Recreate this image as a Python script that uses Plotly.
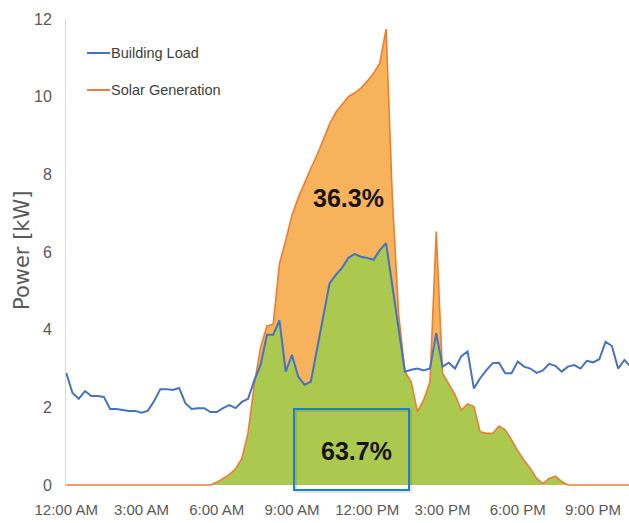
import pandas as pd
import numpy as np
import plotly.graph_objects as go

# 15-minute intervals starting at midnight
times = pd.date_range("2020-01-01 00:00", periods=91, freq="15min")

building_load = [2.89, 2.37, 2.22, 2.42, 2.29, 2.29, 2.27, 1.96, 1.96, 1.93,
                 1.91, 1.91, 1.86, 1.91, 2.16, 2.47, 2.47, 2.45, 2.50, 2.11,
                 1.96, 1.98, 1.98, 1.88, 1.88, 1.98, 2.06, 1.98, 2.14, 2.22,
                 2.70, 3.10, 3.87, 3.87, 4.24, 2.92, 3.35, 2.79, 2.58, 2.66,
                 3.48, 4.34, 5.20, 5.41, 5.60, 5.85, 5.95, 5.88, 5.85, 5.80,
                 6.05, 6.23, 5.10, 4.00, 2.92, 2.97, 3.00, 2.95, 3.00, 3.91,
                 3.05, 3.15, 3.00, 3.32, 3.44, 2.49, 2.75, 2.96, 3.14, 3.15,
                 2.88, 2.88, 3.18, 3.05, 3.00, 2.89, 2.95, 3.12, 3.07, 2.92,
                 3.05, 3.09, 3.00, 3.20, 3.16, 3.24, 3.69, 3.58, 3.00, 3.22, 3.05]

solar_generation = [0] * 24 + [
    0.07, 0.17, 0.27, 0.42, 0.68, 1.35, 2.60, 3.55, 4.10, 4.14,
    5.70, 6.30, 6.95, 7.40, 7.80, 8.15, 8.50, 8.90, 9.30, 9.60,
    9.80, 10.00, 10.10, 10.22, 10.40, 10.60, 10.87, 11.74, 7.40, 4.40,
    2.92, 2.66, 1.89, 2.19, 2.66, 6.53, 2.88, 2.58, 2.32, 1.93,
    2.09, 2.02, 1.37, 1.33, 1.33, 1.52, 1.42, 1.16, 0.88, 0.64,
    0.43, 0.17, 0.04, 0.17, 0.23, 0.09] + [0] * 11

share_exported = "36.3%"
share_self_consumed = "63.7%"

self_consumed = np.minimum(np.array(building_load), np.array(solar_generation))

BLUE = "#4472C4"
ORANGE = "#ED7D31"
ORANGE_FILL = "#F6B35C"
GREEN_FILL = "#ABC84F"
SANS = "Liberation Sans, Arial, sans-serif"
GRAY = "#595959"

fig = go.Figure()
fig.add_trace(go.Scatter(x=times, y=solar_generation, mode="none", fill="tozeroy",
                         fillcolor=ORANGE_FILL, showlegend=False, hoverinfo="skip"))
fig.add_trace(go.Scatter(x=times, y=self_consumed, mode="none", fill="tozeroy",
                         fillcolor=GREEN_FILL, showlegend=False, hoverinfo="skip"))
fig.add_trace(go.Scatter(x=times, y=solar_generation, mode="lines", name="Solar Generation",
                         line=dict(color=ORANGE, width=1.6), showlegend=False))
fig.add_trace(go.Scatter(x=times, y=building_load, mode="lines", name="Building Load",
                         line=dict(color=BLUE, width=2), showlegend=False))

# plot area geometry: l=66, r=0, t=19, b=36  (629 x 523)
L, T, W, H = 66, 19, 563, 468
def px(x):
    return (x - L) / W
def py(y):
    return (T + H - y) / H

shapes = [
    dict(type="rect", xref="paper", yref="paper", x0=px(296), x1=px(411), y0=py(492), y1=py(411),
         line=dict(color="rgba(0,0,0,0.10)", width=2)),
    dict(type="rect", xref="paper", yref="paper", x0=px(294), x1=px(409), y0=py(490), y1=py(409),
         line=dict(color="#1A7FD2", width=2)),
    dict(type="line", xref="paper", yref="paper", x0=px(87), x1=px(110), y0=py(53), y1=py(53),
         line=dict(color=BLUE, width=2)),
    dict(type="line", xref="paper", yref="paper", x0=px(87), x1=px(110), y0=py(90), y1=py(90),
         line=dict(color=ORANGE, width=2)),
]

annotations = [
    dict(text="Building Load", xref="paper", yref="paper", x=px(109), y=py(53),
         xanchor="left", yanchor="middle", showarrow=False,
         font=dict(family=SANS, size=14.5, color="#404040")),
    dict(text="Solar Generation", xref="paper", yref="paper", x=px(109), y=py(90),
         xanchor="left", yanchor="middle", showarrow=False,
         font=dict(family=SANS, size=14.5, color="#404040")),
    dict(text="<b>" + share_exported + "</b>", xref="paper", yref="paper", x=px(348), y=py(198),
         xanchor="center", yanchor="middle", showarrow=False,
         font=dict(family=SANS, size=25, color="#141414")),
    dict(text="<b>" + share_self_consumed + "</b>", xref="paper", yref="paper", x=px(356), y=py(451),
         xanchor="center", yanchor="middle", showarrow=False,
         font=dict(family=SANS, size=25, color="#141414")),
    dict(text="Power [kW]", xref="paper", yref="paper", x=px(22), y=py(250),
         xanchor="center", yanchor="middle", showarrow=False, textangle=-90,
         font=dict(family="DejaVu Sans, sans-serif", size=21, color=GRAY)),
]

fig.update_layout(
    width=629, height=523,
    margin=dict(l=L, r=0, t=T, b=523 - T - H, pad=0),
    paper_bgcolor="white", plot_bgcolor="white",
    shapes=shapes, annotations=annotations,
    showlegend=False,
    xaxis=dict(type="date",
               range=["2019-12-31 23:59:30", "2020-01-01 22:26"],
               tick0="2020-01-01 00:00", dtick=3 * 3600 * 1000,
               tickformat="%-I:%M %p", showgrid=False, showline=False, zeroline=False,
               ticks="", ticklabelstandoff=12,
               tickfont=dict(family=SANS, size=15, color=GRAY)),
    yaxis=dict(range=[-0.05, 12], dtick=2, tick0=0, showgrid=False, zeroline=False,
               showline=True, linecolor="#D9D9D9", linewidth=1, ticks="",
               ticklabelstandoff=10,
               tickfont=dict(family=SANS, size=16, color=GRAY)),
)

fig.write_html("out.html", config={"displayModeBar": False},
               post_script="document.body.style.margin='0';")
